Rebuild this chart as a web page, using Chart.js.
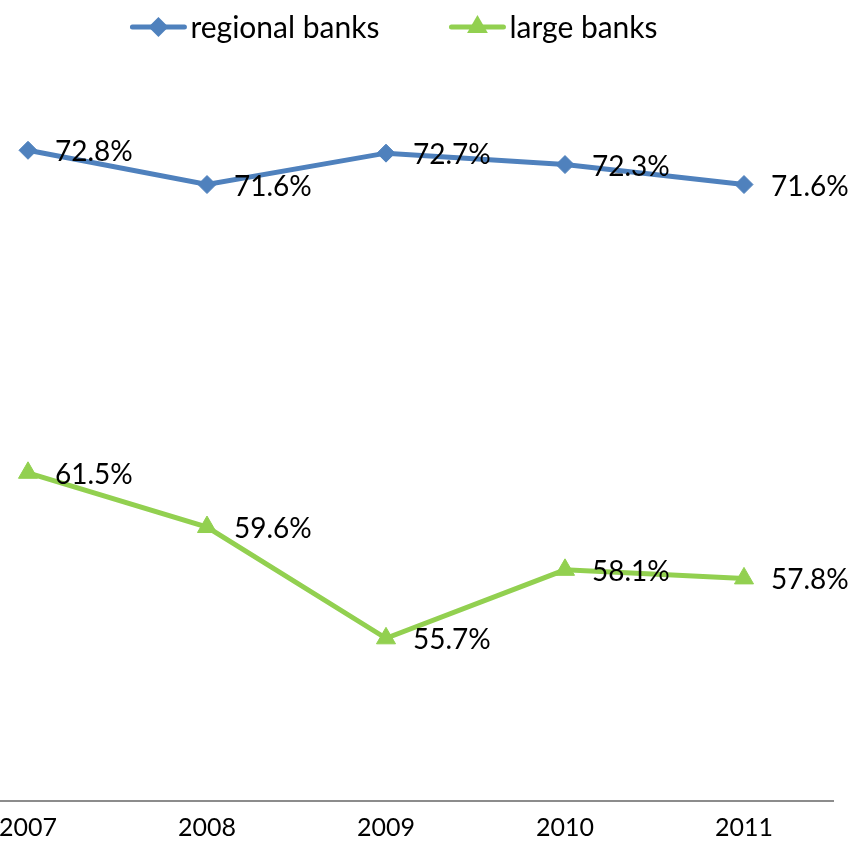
<!DOCTYPE html>
<html>
<head>
<meta charset="utf-8">
<script src="https://cdn.jsdelivr.net/npm/chart.js@4.4.1/dist/chart.umd.min.js"></script>
<style>
  html, body { margin: 0; padding: 0; background: #ffffff; overflow: hidden; width: 856px; height: 855px; }
  #wrap { position: absolute; left: -100px; top: 0; width: 956px; height: 855px; }
</style>
</head>
<body>
<div id="wrap"><canvas id="c" width="956" height="855"></canvas></div>
<script>
// Share of total (%) by bank group, 2007-2011
const years = ['2007', '2008', '2009', '2010', '2011'];
const regionalBanks = [72.8, 71.6, 72.7, 72.3, 71.6];
const largeBanks = [61.5, 59.6, 55.7, 58.1, 57.8];
const seriesNames = ['regional banks', 'large banks'];

const BLUE = '#4f81bd';
const GREEN = '#92d050';
const FONT = 'Lato, "Open Sans", "Liberation Sans", sans-serif';

// Draws a marker shape centred on (x, y)
function drawMarker(ctx, style, x, y, r, color) {
  ctx.save();
  ctx.fillStyle = color;
  ctx.beginPath();
  if (style === 'rectRot') {
    ctx.moveTo(x - r, y);
    ctx.lineTo(x, y - r);
    ctx.lineTo(x + r, y);
    ctx.lineTo(x, y + r);
  } else {
    ctx.moveTo(x, y - r);
    ctx.lineTo(x + 0.866 * r, y + 0.5 * r);
    ctx.lineTo(x - 0.866 * r, y + 0.5 * r);
  }
  ctx.closePath();
  ctx.fill();
  ctx.restore();
}

// Value labels to the right of every point
const valueLabels = {
  id: 'valueLabels',
  afterDatasetsDraw(chart, args, opts) {
    const ctx = chart.ctx;
    ctx.save();
    ctx.font = opts.font;
    ctx.fillStyle = '#000';
    ctx.textAlign = 'left';
    ctx.textBaseline = 'middle';
    chart.data.datasets.forEach((ds, i) => {
      chart.getDatasetMeta(i).data.forEach((pt, j) => {
        ctx.fillText(ds.data[j].toFixed(1) + '%', pt.x + opts.dx, pt.y + opts.dy);
      });
    });
    ctx.restore();
  }
};

// Series key across the top: line sample with marker, then the series name
const seriesKey = {
  id: 'seriesKey',
  afterDraw(chart, args, opts) {
    const ctx = chart.ctx;
    const area = chart.chartArea;
    ctx.save();
    ctx.font = opts.font;
    ctx.textBaseline = 'middle';
    ctx.textAlign = 'left';
    const items = chart.data.datasets.map(ds => ({
      ds, w: opts.lineLen + opts.textGap + ctx.measureText(ds.label).width
    }));
    const total = items.reduce((s, it) => s + it.w, 0) + opts.itemGap * (items.length - 1);
    let x = (area.left + area.right) / 2 - total / 2 + opts.shift;
    const y = opts.y;
    items.forEach(it => {
      const ds = it.ds;
      ctx.strokeStyle = ds.borderColor;
      ctx.lineWidth = ds.borderWidth;
      ctx.lineCap = 'round';
      ctx.beginPath();
      ctx.moveTo(x + 2, y);
      ctx.lineTo(x + opts.lineLen - 2, y);
      ctx.stroke();
      drawMarker(ctx, ds.pointStyle, x + opts.lineLen / 2, y, ds.pointRadius + 1, ds.pointBackgroundColor);
      ctx.fillStyle = '#000';
      ctx.fillText(ds.label, x + opts.lineLen + opts.textGap, y + 1);
      x += it.w + opts.itemGap;
    });
    ctx.restore();
  }
};

new Chart(document.getElementById('c'), {
  type: 'line',
  data: {
    labels: years,
    datasets: [
      {
        label: seriesNames[0],
        data: regionalBanks,
        borderColor: BLUE,
        backgroundColor: BLUE,
        pointBackgroundColor: BLUE,
        pointBorderColor: BLUE,
        borderWidth: 5,
        pointStyle: 'rectRot',
        pointRadius: 9,
        pointBorderWidth: 1,
        tension: 0
      },
      {
        label: seriesNames[1],
        data: largeBanks,
        borderColor: GREEN,
        backgroundColor: GREEN,
        pointBackgroundColor: GREEN,
        pointBorderColor: GREEN,
        borderWidth: 5,
        pointStyle: 'triangle',
        pointRadius: 11,
        pointBorderWidth: 1,
        tension: 0
      }
    ]
  },
  options: {
    responsive: false,
    animation: false,
    events: [],
    layout: { padding: { left: 38.5, right: 22.5, top: 87.5, bottom: 0 } },
    scales: {
      x: {
        offset: true,
        grid: { display: false, drawTicks: false },
        border: { display: true, color: '#8c8c8c', width: 2 },
        ticks: { color: '#000', padding: 12, font: { family: FONT, size: 25 } }
      },
      y: {
        display: false,
        min: 50,
        max: 75
      }
    },
    plugins: {
      legend: { display: false },
      tooltip: { enabled: false },
      valueLabels: { font: '28px ' + FONT, dx: 27, dy: 2 },
      seriesKey: { font: '30px ' + FONT, y: 27, lineLen: 56, textGap: 4, itemGap: 70, shift: 8 }
    }
  },
  plugins: [valueLabels, seriesKey]
});
</script>
</body>
</html>
